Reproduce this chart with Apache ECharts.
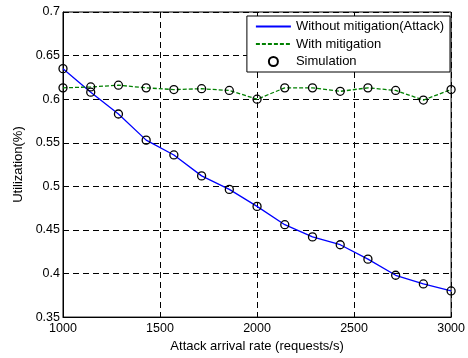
<!DOCTYPE html>
<html>
<head>
<meta charset="utf-8">
<script src="https://cdn.jsdelivr.net/npm/echarts@6/dist/echarts.min.js"></script>
<style>
  html, body { margin: 0; padding: 0; background: #fff; }
  #chart { width: 468px; height: 358px; }
</style>
</head>
<body>
<div id="chart"></div>
<script>
// Attack arrival rates (requests/s), 15 evenly spaced samples from 1000 to 3000
const rates = [1000, 1142.9, 1285.7, 1428.6, 1571.4, 1714.3, 1857.1, 2000,
               2142.9, 2285.7, 2428.6, 2571.4, 2714.3, 2857.1, 3000];
// Utilization without mitigation (under attack)
const withoutMitigation = [0.635, 0.608, 0.583, 0.553, 0.536, 0.512, 0.4965, 0.477,
                           0.456, 0.442, 0.433, 0.4165, 0.398, 0.388, 0.380];
// Utilization with mitigation
const withMitigation = [0.613, 0.614, 0.616, 0.613, 0.611, 0.612, 0.610, 0.600,
                        0.613, 0.613, 0.609, 0.613, 0.610, 0.599, 0.611];
const xTicks = [1000, 1500, 2000, 2500, 3000];
const yTicks = [0.35, 0.4, 0.45, 0.5, 0.55, 0.6, 0.65, 0.7];

const pairs = (xs, ys) => xs.map((x, i) => [x, ys[i]]);
const font = 'Liberation Sans, Arial, sans-serif';

// hollow markers: transparent fill, black outline
const markerStyle = { color: 'rgba(0,0,0,0)', borderColor: '#000', borderWidth: 1.3, opacity: 1 };
// line entries in the legend show only the line, no marker
const noMarker = { color: 'rgba(0,0,0,0)', borderWidth: 0, opacity: 0 };

const chart = echarts.init(document.getElementById('chart'), null, { renderer: 'canvas' });
chart.setOption({
  animation: false,
  backgroundColor: '#fff',
  grid: {
    left: 63, top: 12, right: 15, bottom: 39,
    show: true, borderColor: '#000', borderWidth: 1
  },
  xAxis: {
    type: 'value',
    min: xTicks[0], max: xTicks[xTicks.length - 1], interval: 500,
    name: 'Attack arrival rate (requests/s)',
    nameLocation: 'middle', nameGap: 21,
    nameTextStyle: { color: '#000', fontFamily: font, fontSize: 13 },
    axisLine: { show: true, lineStyle: { color: '#000', width: 1 } },
    axisTick: { show: true, inside: true, length: 5, lineStyle: { color: '#000' } },
    axisLabel: { color: '#000', fontFamily: font, fontSize: 12.5, margin: 5,
                 formatter: v => String(v) },
    splitLine: { show: true, lineStyle: { color: '#000', type: [6, 4], width: 1 } }
  },
  yAxis: {
    type: 'value',
    min: yTicks[0], max: yTicks[yTicks.length - 1], interval: 0.05,
    name: 'Utilization(%)',
    nameLocation: 'middle', nameGap: 33, nameRotate: 90,
    nameTextStyle: { color: '#000', fontFamily: font, fontSize: 13 },
    axisLine: { show: true, lineStyle: { color: '#000', width: 1 } },
    axisTick: { show: true, inside: true, length: 5, lineStyle: { color: '#000' } },
    axisLabel: {
      color: '#000', fontFamily: font, fontSize: 12.5, margin: 3,
      formatter: v => String(parseFloat(v.toFixed(2)))
    },
    splitLine: { show: true, lineStyle: { color: '#000', type: [6, 4], width: 1 } }
  },
  legend: {
    orient: 'vertical',
    right: 18, top: 16,
    backgroundColor: '#fff',
    borderColor: '#000', borderWidth: 1, borderRadius: 0,
    padding: [4, 6, 4, 8],
    itemWidth: 35, itemHeight: 9, itemGap: 4.5,
    textStyle: { color: '#000', fontFamily: font, fontSize: 13 },
    data: [
      { name: 'Without mitigation(Attack)', itemStyle: noMarker },
      { name: 'With mitigation', itemStyle: noMarker },
      { name: 'Simulation' }
    ]
  },
  series: [
    {
      name: 'Without mitigation(Attack)', type: 'line',
      data: pairs(rates, withoutMitigation),
      symbol: 'none', color: '#0000ff',
      lineStyle: { color: '#0000ff', width: 1.3 }, z: 2
    },
    {
      name: 'With mitigation', type: 'line',
      data: pairs(rates, withMitigation),
      symbol: 'none', color: '#008000',
      lineStyle: { color: '#008000', width: 1.3, type: [4, 2] }, z: 2
    },
    {
      name: 'Simulation', type: 'scatter',
      data: pairs(rates, withoutMitigation),
      symbol: 'circle', symbolSize: 8,
      itemStyle: markerStyle, z: 3
    },
    {
      name: 'Simulation', type: 'scatter',
      data: pairs(rates, withMitigation),
      symbol: 'circle', symbolSize: 8,
      itemStyle: markerStyle, z: 3
    }
  ]
});
</script>
</body>
</html>
